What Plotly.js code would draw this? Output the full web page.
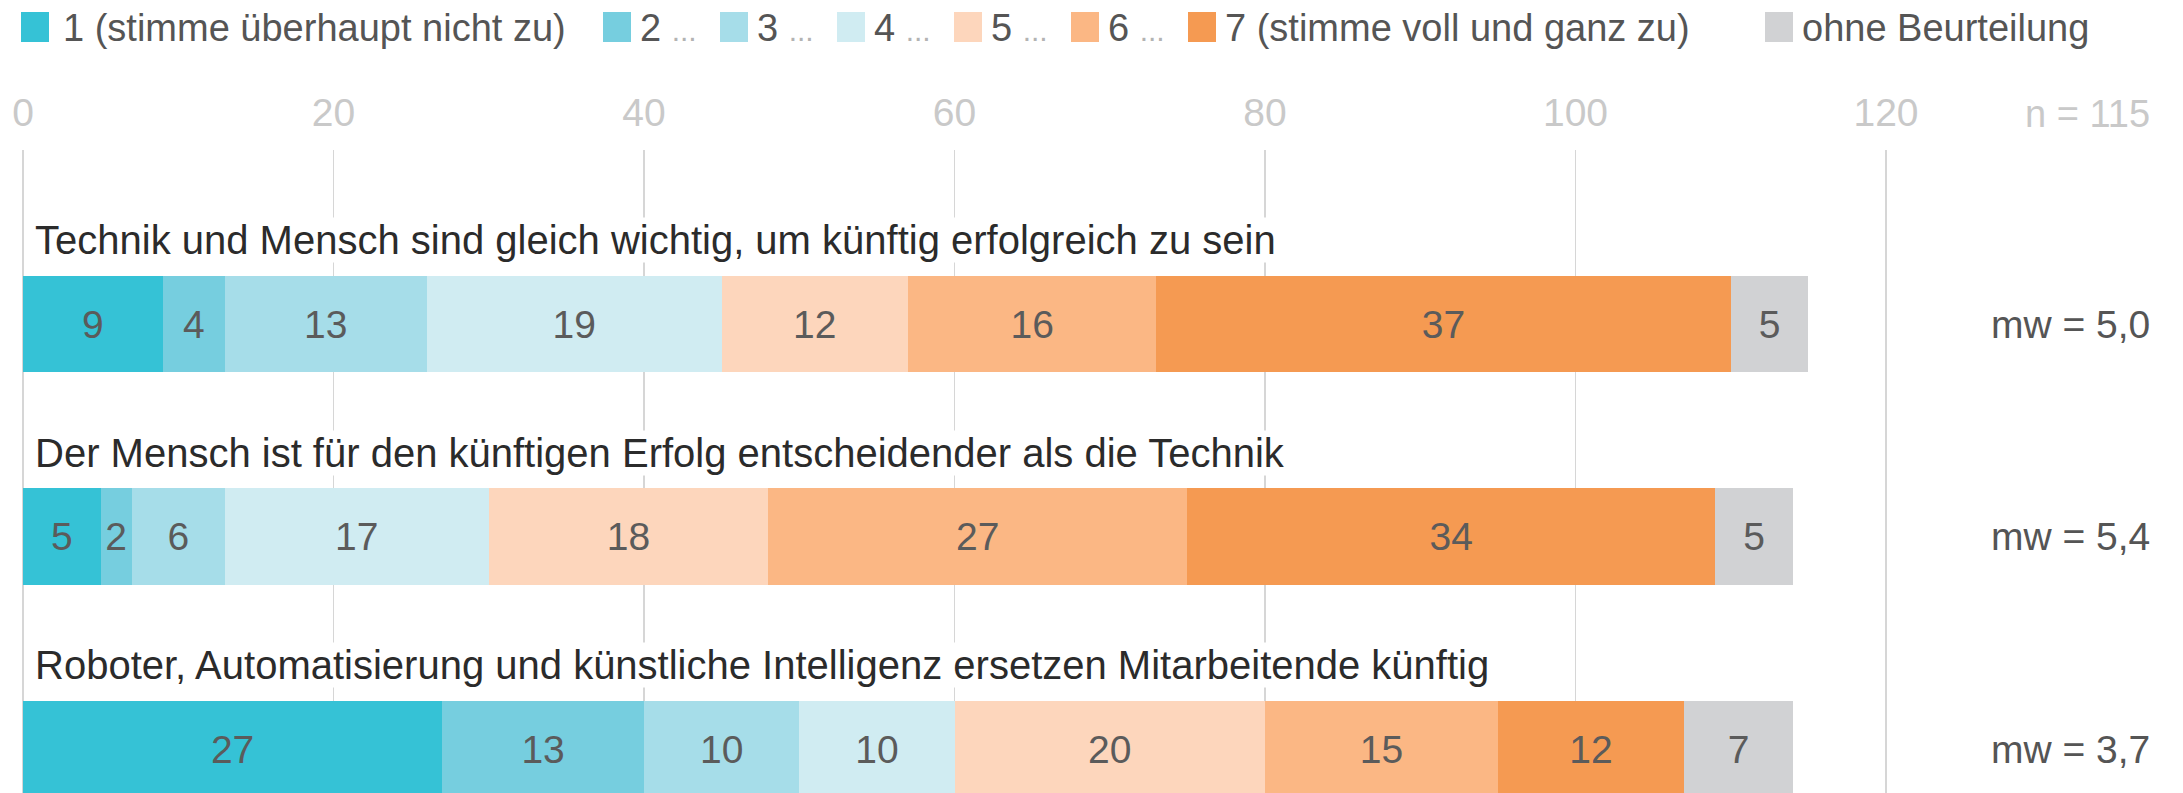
<!DOCTYPE html>
<html>
<head>
<meta charset="utf-8">
<script src="https://cdn.plot.ly/plotly-3.0.1.min.js"></script>
<style>
  html, body { margin: 0; padding: 0; background: #ffffff; }
  #chart { width: 2183px; height: 793px; }
</style>
</head>
<body>
<div id="chart"></div>
<script>
// ---- data ----
const statements = [
  "Technik und Mensch sind gleich wichtig, um künftig erfolgreich zu sein",
  "Der Mensch ist für den künftigen Erfolg entscheidender als die Technik",
  "Roboter, Automatisierung und künstliche Intelligenz ersetzen Mitarbeitende künftig"
];
const seriesNames = [
  "1 (stimme überhaupt nicht zu)", "2", "3", "4", "5", "6",
  "7 (stimme voll und ganz zu)", "ohne Beurteilung"
];
const level1 = [9, 5, 27];
const level2 = [4, 2, 13];
const level3 = [13, 6, 10];
const level4 = [19, 17, 10];
const level5 = [12, 18, 20];
const level6 = [16, 27, 15];
const level7 = [37, 34, 12];
const noRating = [5, 5, 7];
const meanValues = ["5,0", "5,4", "3,7"];
const sampleLabel = "n = 115";
const tickValues = [0, 20, 40, 60, 80, 100, 120];

// ---- styling ----
const colors = ["#35c2d6", "#76cedf", "#a6dde9", "#d0ecf2", "#fdd6bc", "#fbb784", "#f59a52", "#d1d2d4"];
const FONT = "'Liberation Sans', Arial, sans-serif";
const W = 2183, H = 793;
const series = [level1, level2, level3, level4, level5, level6, level7, noRating];

const traces = series.map((vals, i) => ({
  type: "bar",
  orientation: "h",
  name: seriesNames[i],
  y: statements,
  x: vals,
  width: 0.456,
  marker: { color: colors[i], line: { width: 0 } },
  text: vals.map(String),
  textposition: "inside",
  insidetextanchor: "middle",
  textangle: 0,
  textfont: { family: FONT, size: 39, color: "#5b5b5b" },
  hoverinfo: "skip",
  showlegend: false
}));

// layout helpers (pixel -> paper)
const px = v => v / W;
const py = v => 1 - v / H;

const annotations = [];
const shapes = [];

// statement labels above bars
statements.forEach(s => {
  annotations.push({
    xref: "x", yref: "y", x: 0, y: s, xanchor: "left", yanchor: "middle",
    xshift: 11, yshift: 84, text: s, showarrow: false, bgcolor: "#ffffff", borderpad: 0,
    font: { family: FONT, size: 40, color: "#2b2b2b" }
  });
});
// mean values to the right
statements.forEach((s, i) => {
  annotations.push({
    xref: "paper", yref: "y", x: px(2152), y: s, xanchor: "right", yanchor: "middle",
    text: "mw = " + meanValues[i], showarrow: false,
    font: { family: FONT, size: 39, color: "#555555" }
  });
});
// sample size
annotations.push({
  xref: "paper", yref: "paper", x: px(2152), y: py(114), xanchor: "right", yanchor: "middle",
  text: sampleLabel, showarrow: false, font: { family: FONT, size: 38, color: "#c9c9c9" }
});

// custom legend
const swatchX = [21, 603, 720, 837, 954, 1071, 1188, 1765];
seriesNames.forEach((n, i) => {
  const x0 = swatchX[i];
  shapes.push({
    type: "rect", xref: "paper", yref: "paper",
    x0: px(x0), x1: px(x0 + 28), y0: py(42), y1: py(12),
    fillcolor: colors[i], line: { width: 0 }, layer: "above"
  });
  const isShort = /^\d$/.test(n);
  annotations.push({
    xref: "paper", yref: "paper", x: px(x0 + (i === 0 ? 40 : 35)), y: py(28), xanchor: "left", yanchor: "middle",
    text: isShort ? n + " <span style='color:#b3b3b3;font-size:30px'>...</span>" : n,
    showarrow: false, font: { family: FONT, size: 38, color: "#555555" }
  });
});

const x0px = 23, unitPx = (1886 - 23) / 120;
const layout = {
  width: W, height: H,
  margin: { l: 0, r: 0, t: 0, b: 0, pad: 0 },
  paper_bgcolor: "#ffffff", plot_bgcolor: "#ffffff",
  barmode: "stack",
  bargap: 0,
  showlegend: false,
  xaxis: {
    domain: [0, 1],
    range: [-x0px / unitPx, (W - x0px) / unitPx],
    side: "top",
    tickvals: tickValues,
    ticktext: tickValues.map(String),
    ticks: "",
    ticklabelstandoff: 15,
    showgrid: true, gridcolor: "#d6d6d6", gridwidth: 1.5,
    zeroline: false, showline: false,
    tickfont: { family: FONT, size: 39, color: "#c9c9c9" },
    fixedrange: true
  },
  yaxis: {
    domain: [0, 1 - 150 / H],
    type: "category",
    categoryorder: "array", categoryarray: statements,
    range: [2.207, -0.819],
    showticklabels: false, showgrid: false, zeroline: false, showline: false, ticks: "",
    fixedrange: true
  },
  annotations: annotations,
  shapes: shapes,
  font: { family: FONT }
};

Plotly.newPlot("chart", traces, layout, { displayModeBar: false, staticPlot: true });
</script>
</body>
</html>
